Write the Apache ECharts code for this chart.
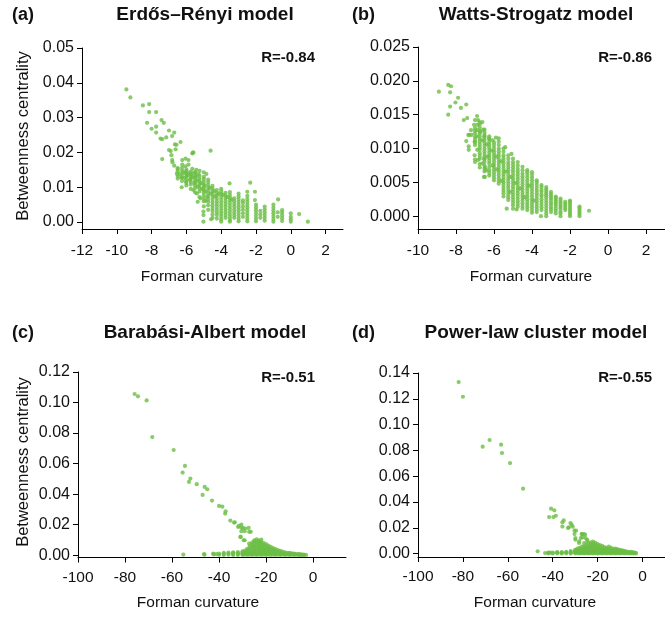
<!DOCTYPE html>
<html>
<head>
<meta charset="utf-8">
<title>Forman curvature vs betweenness centrality</title>
<script src="https://cdn.jsdelivr.net/npm/echarts@6/dist/echarts.min.js"></script>
<style>
    html, body { margin: 0; padding: 0; background: #fff; }
    #chart { width: 665px; height: 618px; }
</style>
</head>
<body>
<div id="chart"></div>
<script>
    // tick labels
    const erXTicks = [-12, -10, -8, -6, -4, -2, 0, 2]
    const erYTicks = [0, 0.01, 0.02, 0.03, 0.04, 0.05]
    const wsXTicks = [-10, -8, -6, -4, -2, 0, 2]
    const wsYTicks = [0, 0.005, 0.01, 0.015, 0.02, 0.025]
    const baXTicks = [-100, -80, -60, -40, -20, 0]
    const baYTicks = [0, 0.02, 0.04, 0.06, 0.08, 0.1, 0.12]
    const plcXTicks = [-100, -80, -60, -40, -20, 0]
    const plcYTicks = [0, 0.02, 0.04, 0.06, 0.08, 0.1, 0.12, 0.14]

    const panelTitles = ['Erdős–Rényi model', 'Watts-Strogatz model', 'Barabási-Albert model', 'Power-law cluster model']
    const panelLetters = ['(a)', '(b)', '(c)', '(d)']
    const correlations = ['R=-0.84', 'R=-0.86', 'R=-0.51', 'R=-0.55']

    // (a) Erdős–Rényi: single points [curvature, betweenness]
    const erPoints = [
        [-9.45, 0.0381], [-9.22, 0.0358], [-8.5, 0.0335], [-8.14, 0.0339], [-8.14, 0.0316], [-7.74, 0.0316],
        [-8.26, 0.0285], [-8.0, 0.0268], [-7.74, 0.0274], [-7.43, 0.0293], [-7.3, 0.0285], [-7.74, 0.0257],
        [-7.49, 0.024], [-7.39, 0.0238], [-7.16, 0.0243], [-7.0, 0.0263], [-6.82, 0.0247], [-6.7, 0.0257],
        [-6.34, 0.023], [-6.66, 0.0223], [-6.57, 0.0222], [-7.0, 0.0207], [-6.62, 0.0209], [-6.9, 0.0204],
        [-6.86, 0.0192], [-7.39, 0.0181], [-5.66, 0.0197], [-5.6, 0.02], [-5.63, 0.0199], [-4.61, 0.0205],
        [-6.82, 0.0178], [-6.8, 0.0172], [-6.24, 0.0178], [-6.05, 0.0182], [-5.88, 0.0178], [-6.7, 0.0162],
        [-6.5, 0.0155], [-6.24, 0.0165], [-6.05, 0.016], [-5.88, 0.0165], [-5.66, 0.0153], [-5.43, 0.015],
        [-5.24, 0.0147], [-6.2, 0.0143], [-5.88, 0.014], [-5.5, 0.0143], [-5.3, 0.0138], [-5.0, 0.0143],
        [-4.85, 0.0138], [-6.27, 0.01], [-6.02, 0.0116], [-5.35, 0.0058], [-5.02, 0.003], [-5.02, 0.002],
        [-5.02, 0.0001], [-4.58, 0.0008], [-4.0, 0.0001], [-3.5, 0.0001], [-3.52, 0.0111], [-2.33, 0.0113],
        [-2.5, 0.0087], [-2.06, 0.0087], [-2.06, 0.0063], [-0.73, 0.0065], [0, 0.0025], [0.48, 0.0023],
        [0.98, 0.0001], [0, 0.0001],
        [-6.4, 0.0138], [-6.1, 0.0127], [-5.95, 0.0133], [-5.8, 0.0121], [-5.65, 0.0129], [-5.55, 0.0112],
        [-5.4, 0.0119], [-5.35, 0.0102], [-5.15, 0.0112], [-5.1, 0.0095], [-4.95, 0.0105], [-4.9, 0.0088],
        [-4.8, 0.0072], [-4.65, 0.0098], [-4.6, 0.0082], [-4.4, 0.0089], [-4.35, 0.0074], [-4.15, 0.0081],
        [-3.9, 0.0078], [-3.65, 0.0072], [-3.4, 0.0065], [-5.6, 0.0092], [-5.4, 0.0082], [-5.2, 0.0068],
        [-4.9, 0.0061], [-6.3, 0.0128], [-6.55, 0.0139], [-6.05, 0.0141], [-5.7, 0.0139], [-5.45, 0.0131]
    ]
    // (a) vertical stripes: [curvature, [betweenness...]]
    const erColumns = [
        [-6.5, [0.0125, 0.0132, 0.0145, 0.0152]],
        [-6.25, [0.0118, 0.0128, 0.0136, 0.0148, 0.0156]],
        [-6.0, [0.0105, 0.0112, 0.0122, 0.0131, 0.0138, 0.0146, 0.0151]],
        [-5.75, [0.0095, 0.0108, 0.0116, 0.0124, 0.013, 0.0137, 0.0145]],
        [-5.5, [0.0085, 0.0098, 0.0106, 0.0113, 0.012, 0.0128, 0.0134, 0.0142]],
        [-5.25, [0.0072, 0.0088, 0.0096, 0.0104, 0.0111, 0.0118, 0.0125, 0.0133]],
        [-5.0, [0.0045, 0.006, 0.0068, 0.0077, 0.0085, 0.0093, 0.01, 0.0108, 0.0116, 0.0124, 0.013]],
        [-4.75, [0.0035, 0.0048, 0.0058, 0.0066, 0.0075, 0.0083, 0.0091, 0.0099, 0.0107, 0.0115, 0.0122]],
        [-4.5, [0.0012, 0.0022, 0.0032, 0.004, 0.0048, 0.0056, 0.0064, 0.0072, 0.008, 0.0088, 0.0096, 0.0104]],
        [-4.25, [0.001, 0.002, 0.0028, 0.0036, 0.0044, 0.0052, 0.006, 0.0068, 0.0076, 0.0084, 0.0092]],
        [-4.0, [0.0008, 0.0016, 0.0024, 0.0032, 0.004, 0.0048, 0.0056, 0.0064, 0.0072, 0.008, 0.0088, 0.0095]],
        [-3.75, [0.0012, 0.002, 0.0028, 0.0036, 0.0044, 0.0052, 0.006, 0.0068, 0.0076, 0.0084]],
        [-3.5, [0.0006, 0.0014, 0.0022, 0.003, 0.0038, 0.0046, 0.0054, 0.0062, 0.007, 0.0078, 0.0086]],
        [-3.25, [0.0012, 0.002, 0.0028, 0.0036, 0.0044, 0.0052, 0.006, 0.0068]],
        [-3.0, [0.0002, 0.001, 0.0018, 0.0026, 0.0034, 0.0042, 0.005, 0.0058, 0.0066, 0.0074, 0.0082]],
        [-2.75, [0.0015, 0.0025, 0.0035, 0.0045, 0.0055, 0.0062]],
        [-2.5, [0.0002, 0.001, 0.0018, 0.0026, 0.0034, 0.0042, 0.005, 0.0058, 0.0066, 0.0075]],
        [-2.0, [0.0002, 0.001, 0.0018, 0.0026, 0.0034, 0.0042, 0.005]],
        [-1.75, [0.0012, 0.0022, 0.0032]],
        [-1.5, [0.0004, 0.0012, 0.002, 0.0028, 0.0036, 0.0044]],
        [-1.0, [0.0001, 0.0009, 0.0017, 0.0025, 0.0033, 0.0041, 0.005]],
        [-0.75, [0.0015, 0.0028]],
        [-0.5, [0.0003, 0.0011, 0.0019, 0.0027, 0.0034]],
        [0, [0.0008, 0.0015]]
    ]

    // (b) Watts-Strogatz
    const wsPoints = [
        [-8.9, 0.0184], [-8.41, 0.0194], [-8.26, 0.0192], [-8.31, 0.0183], [-7.89, 0.0175], [-8.03, 0.0168],
        [-7.74, 0.016], [-7.46, 0.0165], [-8.31, 0.0162], [-8.41, 0.015], [-7.59, 0.0142], [-7.41, 0.0145],
        [-6.89, 0.0148], [-7.0, 0.0142], [-6.84, 0.0142], [-6.61, 0.0139], [-7.05, 0.0135], [-6.87, 0.0135],
        [-7.21, 0.0127], [-7.3, 0.012], [-7.18, 0.012], [-6.89, 0.0127], [-6.72, 0.0125], [-6.56, 0.0128],
        [-6.51, 0.0118], [-6.26, 0.0115], [-5.9, 0.0116], [-6.07, 0.0112], [-7.46, 0.0111], [-7.33, 0.0103],
        [-7.33, 0.0098], [-7.02, 0.009], [-6.84, 0.0083], [-6.52, 0.0085], [-6.48, 0.0072], [-6.4, 0.0068],
        [-6.48, 0.0058], [-6.07, 0.0075], [-5.41, 0.0102], [-5.08, 0.0092], [-7.35, 0.012], [-7.02, 0.011],
        [-6.53, 0.0058], [-6.61, 0.0078], [-5.33, 0.0011], [-4.81, 0.001], [-3.53, 0.0],
        [-6.9, 0.0118], [-6.62, 0.0112], [-6.38, 0.0106], [-6.12, 0.0097], [-5.88, 0.0088], [-5.62, 0.0081],
        [-5.38, 0.0066], [-5.12, 0.0058], [-4.88, 0.0049], [-4.62, 0.0041], [-6.88, 0.0098], [-6.35, 0.0088],
        [-5.85, 0.0069], [-5.6, 0.0052], [-5.15, 0.0036], [-4.4, 0.0028], [-3.9, 0.0023], [-4.15, 0.0045]
    ]
    const wsColumns = [
        [-7.0, [0.008, 0.0084, 0.0105, 0.0109, 0.0113, 0.0117, 0.0122, 0.0126, 0.013]],
        [-6.75, [0.0072, 0.0077, 0.0085, 0.0089, 0.0093, 0.0098, 0.0102, 0.0106, 0.011, 0.0114, 0.0118, 0.0122, 0.0126, 0.0131, 0.0136, 0.0139]],
        [-6.5, [0.0066, 0.007, 0.0075, 0.008, 0.0084, 0.0088, 0.0092, 0.0096, 0.01, 0.0104, 0.0108, 0.0112, 0.0116, 0.012, 0.0124, 0.0128]],
        [-6.25, [0.006, 0.0064, 0.0068, 0.0073, 0.0078, 0.0082, 0.0086, 0.009, 0.0094, 0.0098, 0.0102, 0.0106, 0.011, 0.0114, 0.0118]],
        [-6.0, [0.0053, 0.0057, 0.0061, 0.0065, 0.0069, 0.0073, 0.0077, 0.0081, 0.0085, 0.0089, 0.0093, 0.0097, 0.0101, 0.0105, 0.0109]],
        [-5.75, [0.0048, 0.0052, 0.0056, 0.006, 0.0064, 0.0068, 0.0072, 0.0076, 0.008, 0.0084, 0.0088, 0.0092, 0.0096, 0.01, 0.0105, 0.011, 0.0115]],
        [-5.5, [0.0029, 0.0034, 0.0038, 0.0042, 0.0046, 0.005, 0.0054, 0.0058, 0.0062, 0.0066, 0.007, 0.0074, 0.0078, 0.0082, 0.0086, 0.009, 0.0095, 0.01]],
        [-5.25, [0.0024, 0.0028, 0.0032, 0.0036, 0.004, 0.0044, 0.0048, 0.0052, 0.0056, 0.006, 0.0064, 0.0068, 0.0072, 0.0076, 0.008, 0.0085, 0.009]],
        [-5.0, [0.0011, 0.0016, 0.002, 0.0024, 0.0028, 0.0032, 0.0036, 0.004, 0.0044, 0.0048, 0.0052, 0.0056, 0.006, 0.0064, 0.0068, 0.0072, 0.0076, 0.008, 0.0085]],
        [-4.75, [0.0014, 0.0018, 0.0022, 0.0026, 0.003, 0.0034, 0.0038, 0.0042, 0.0046, 0.005, 0.0054, 0.0058, 0.0062, 0.0066, 0.007, 0.0075, 0.008]],
        [-4.5, [0.0011, 0.0015, 0.0019, 0.0023, 0.0027, 0.0031, 0.0035, 0.0039, 0.0043, 0.0047, 0.0051, 0.0055, 0.0059, 0.0063, 0.0068, 0.0073]],
        [-4.25, [0.0009, 0.0013, 0.0017, 0.0021, 0.0025, 0.0029, 0.0033, 0.0037, 0.0041, 0.0045, 0.0049, 0.0053, 0.0057, 0.0061, 0.0065, 0.0068]],
        [-4.0, [0.0005, 0.0009, 0.0013, 0.0017, 0.0021, 0.0025, 0.0029, 0.0033, 0.0037, 0.0041, 0.0045, 0.0049, 0.0053, 0.0057, 0.0061, 0.0065]],
        [-3.75, [0.0006, 0.001, 0.0014, 0.0018, 0.0022, 0.0026, 0.003, 0.0034, 0.0038, 0.0042, 0.0046, 0.005, 0.0053]],
        [-3.5, [0.0009, 0.0013, 0.0017, 0.0021, 0.0025, 0.0029, 0.0032, 0.0036, 0.0039, 0.0043, 0.0046]],
        [-3.25, [0.0, 0.0004, 0.0008, 0.0012, 0.0016, 0.002, 0.0024, 0.0028, 0.0031, 0.0034, 0.0037, 0.004, 0.0043]],
        [-3.0, [0.0006, 0.001, 0.0013, 0.0017, 0.002, 0.0024, 0.0027, 0.003, 0.0033, 0.0036]],
        [-2.75, [0.0004, 0.0008, 0.0011, 0.0015, 0.0018, 0.0021, 0.0024, 0.0027, 0.0029]],
        [-2.5, [0.0, 0.0004, 0.0007, 0.0011, 0.0014, 0.0017, 0.002, 0.0023, 0.0026]],
        [-2.25, [0.0009, 0.0012, 0.0015, 0.0018, 0.0021]],
        [-2.0, [0.0, 0.0003, 0.0006, 0.0009, 0.0012, 0.0015, 0.0018, 0.0021, 0.0023]],
        [-1.5, [0.0, 0.0003, 0.0006, 0.0009, 0.0012, 0.0014]],
        [-1.0, [0.0008]]
    ]

    // (c) Barabási-Albert
    const baPoints = [
        [-75.9, 0.1056], [-74.5, 0.1041], [-70.8, 0.1014], [-68.4, 0.0774], [-59.3, 0.0689], [-54.5, 0.0585],
        [-55.5, 0.0541], [-52.2, 0.0502], [-52.8, 0.048], [-49.5, 0.0465], [-46.1, 0.0447], [-45.0, 0.0432],
        [-47.0, 0.0395], [-43.0, 0.0358], [-40.0, 0.0323], [-38.6, 0.0318], [-37.2, 0.0288], [-37.4, 0.0273],
        [-35.2, 0.0227], [-33.3, 0.0216], [-30.5, 0.0201], [-31.9, 0.0185], [-29.8, 0.0179], [-28.8, 0.0175],
        [-27.4, 0.0179], [-26.5, 0.0153], [-30.5, 0.0157], [-30.9, 0.012], [-29.5, 0.0098], [-55.2, 0.0004],
        [-46.2, 0.0004], [-42.3, 0.0005], [-41.1, 0.0007], [-33.6, 0.0214], [-31.5, 0.0192], [-30.5, 0.0179],
        [-29.1, 0.0157], [-27.2, 0.0153], [-30.8, 0.012], [-29.1, 0.0098], [-27.2, 0.0076], [-25.5, 0.0055],
        [-46.4, 0.0007], [-42.5, 0.0011]
    ]
    const baColumns = [
        [-40, [0.0003, 0.0011]], [-38, [0.0002, 0.0009, 0.0015]], [-36, [0.0003, 0.001, 0.0017]],
        [-34, [0.0002, 0.0008, 0.0014, 0.0019]], [-32, [0.0002, 0.0008, 0.0014, 0.002]],
        [-30, [0.0002, 0.0007, 0.0013, 0.0019, 0.0026]], [-29, [0.0004, 0.0012, 0.002, 0.003]],
        [-28, [0.0002, 0.0008, 0.0015, 0.0023, 0.0032, 0.0042]],
        [-27, [0.0004, 0.0011, 0.002, 0.003, 0.0045, 0.006]],
        [-26, [0.0002, 0.0008, 0.0015, 0.0024, 0.0035, 0.005, 0.0068, 0.0082]],
        [-25, [0.0004, 0.0011, 0.002, 0.003, 0.0042, 0.0058, 0.0075, 0.009, 0.0098]],
        [-24, [0.0002, 0.0008, 0.0016, 0.0026, 0.0038, 0.005, 0.0064, 0.0078, 0.009, 0.0104]],
        [-23, [0.0004, 0.0012, 0.0022, 0.0034, 0.0046, 0.006, 0.0072, 0.0085, 0.0097]],
        [-22, [0.0002, 0.0008, 0.0016, 0.0026, 0.0038, 0.005, 0.0062, 0.0075, 0.0088, 0.0102]],
        [-21, [0.0004, 0.0012, 0.0022, 0.0033, 0.0044, 0.0056, 0.0068, 0.008]],
        [-20, [0.0002, 0.0008, 0.0016, 0.0026, 0.0036, 0.0047, 0.0058, 0.0072]],
        [-19, [0.0004, 0.0012, 0.0021, 0.003, 0.004, 0.0052, 0.0063]],
        [-18, [0.0002, 0.0008, 0.0015, 0.0023, 0.0032, 0.0042, 0.0055]],
        [-17, [0.0004, 0.0011, 0.0019, 0.0027, 0.0036, 0.0047]],
        [-16, [0.0002, 0.0008, 0.0014, 0.0021, 0.003, 0.004]],
        [-15, [0.0004, 0.001, 0.0017, 0.0025, 0.0034]], [-14, [0.0002, 0.0007, 0.0013, 0.002, 0.0028]],
        [-13, [0.0004, 0.001, 0.0016, 0.0023]], [-12, [0.0002, 0.0007, 0.0012, 0.0019]],
        [-11, [0.0004, 0.0009, 0.0015]], [-10, [0.0002, 0.0006, 0.0011, 0.0016]],
        [-9, [0.0003, 0.0008, 0.0013]], [-8, [0.0002, 0.0006, 0.001]], [-7, [0.0003, 0.0007]],
        [-6, [0.0001, 0.0005, 0.0008]], [-5, [0.0002, 0.0006]], [-4, [0.0001, 0.0004]], [-3, [0.0002]]
    ]

    // (d) Power-law cluster
    const plcPoints = [
        [-81.9, 0.133], [-80.0, 0.1216], [-71.2, 0.0829], [-68.1, 0.0881], [-63.0, 0.0845], [-62.6, 0.078],
        [-59.0, 0.0702], [-53.2, 0.0504], [-40.75, 0.0349], [-39.3, 0.0336], [-41.6, 0.0284], [-39.7, 0.0284],
        [-38.6, 0.0294], [-35.1, 0.0258], [-35.7, 0.0243], [-35.7, 0.021], [-32.8, 0.0204], [-31.1, 0.0209],
        [-32.1, 0.0238], [-31.6, 0.0225], [-33.2, 0.0199], [-30.3, 0.0178], [-29.6, 0.0178], [-30.3, 0.0152],
        [-29.9, 0.0121], [-27.0, 0.0152], [-25.6, 0.0147], [-26.7, 0.0127], [-24.6, 0.0108], [-26.0, 0.0083],
        [-28.2, 0.0096], [-46.7, 0.0018], [-43.4, 0.0005], [-41.2, 0.0008], [-27.1, 0.0152], [-26.1, 0.0152],
        [-27.5, 0.0121], [-25.4, 0.0121], [-24.6, 0.0096], [-29.9, 0.0108], [-28.3, 0.0083]
    ]
    const plcColumns = [
        [-42, [0.0003, 0.0009]], [-40, [0.0002, 0.0008]], [-38, [0.0003, 0.0009, 0.0013]],
        [-36, [0.0002, 0.0007, 0.0012]], [-34, [0.0003, 0.0009, 0.0015]], [-32, [0.0002, 0.0008, 0.0014, 0.002]],
        [-30, [0.0003, 0.0009, 0.0016, 0.0024, 0.003]], [-29, [0.0005, 0.0012, 0.002, 0.003, 0.004]],
        [-28, [0.0002, 0.0008, 0.0015, 0.0023, 0.0033, 0.0045]],
        [-27, [0.0004, 0.0011, 0.0019, 0.0028, 0.004, 0.0055]],
        [-26, [0.0002, 0.0008, 0.0015, 0.0023, 0.0033, 0.0045, 0.006]],
        [-25, [0.0004, 0.0011, 0.0019, 0.0028, 0.004, 0.0053, 0.0068]],
        [-24, [0.0002, 0.0008, 0.0015, 0.0024, 0.0035, 0.0048, 0.0062, 0.0078]],
        [-23, [0.0004, 0.0011, 0.002, 0.003, 0.0042, 0.0056, 0.0072, 0.0088]],
        [-22, [0.0002, 0.0008, 0.0015, 0.0024, 0.0035, 0.0048, 0.0062, 0.0078, 0.0094]],
        [-21, [0.0004, 0.0011, 0.002, 0.003, 0.0042, 0.0055, 0.007, 0.0085]],
        [-20, [0.0002, 0.0008, 0.0015, 0.0024, 0.0035, 0.0047, 0.006, 0.0075]],
        [-19, [0.0004, 0.0011, 0.0019, 0.0028, 0.0039, 0.0051, 0.0066]],
        [-18, [0.0002, 0.0008, 0.0015, 0.0023, 0.0033, 0.0045, 0.006]],
        [-17, [0.0004, 0.001, 0.0018, 0.0027, 0.0038, 0.0052]],
        [-16, [0.0002, 0.0008, 0.0015, 0.0023, 0.0033, 0.0046]],
        [-15, [0.0004, 0.001, 0.0018, 0.0027, 0.0038, 0.0055]],
        [-14, [0.0002, 0.0008, 0.0015, 0.0023, 0.0034, 0.0046]],
        [-13, [0.0004, 0.001, 0.0017, 0.0026, 0.0038]], [-12, [0.0002, 0.0008, 0.0014, 0.0022, 0.0032, 0.004]],
        [-11, [0.0004, 0.001, 0.0017, 0.0026, 0.0034]], [-10, [0.0002, 0.0008, 0.0014, 0.0021, 0.003]],
        [-9, [0.0004, 0.001, 0.0017, 0.0025]], [-8, [0.0002, 0.0008, 0.0014, 0.0022]],
        [-7, [0.0004, 0.001, 0.0016]], [-6, [0.0002, 0.0008, 0.0014]], [-5, [0.0003, 0.0009, 0.0014]],
        [-4, [0.0002, 0.0007, 0.0011]], [-3, [0.0002, 0.0006]]
    ]

    function withColumns(points, columns) {
        const out = points.slice()
        columns.forEach(([x, ys]) => ys.forEach(y => out.push([x, y])))
        return out
    }

    const FONT = '"Liberation Sans", Arial, sans-serif'
    const TEXT = '#111'
    const DOT = '#6cbe45'

    // layout per panel
    const panels = [
        {grid: {left: 82, top: 48, width: 261, height: 181}, xMin: -12, xMax: 3, yMin: -0.002, yMax: 0.05,
            xTicks: erXTicks, yTicks: erYTicks, dec: 2, xMargin: 14, data: withColumns(erPoints, erColumns)},
        {grid: {left: 418, top: 47, width: 264, height: 182}, xMin: -10, xMax: 3, yMin: -0.0019, yMax: 0.025,
            xTicks: wsXTicks, yTicks: wsYTicks, dec: 3, xMargin: 14, data: withColumns(wsPoints, wsColumns)},
        {grid: {left: 78, top: 372, width: 268, height: 185.5}, xMin: -100, xMax: 14, yMin: -0.0015, yMax: 0.12,
            xTicks: baXTicks, yTicks: baYTicks, dec: 2, xMargin: 12, data: withColumns(baPoints, baColumns)},
        {grid: {left: 418, top: 373, width: 254, height: 184}, xMin: -100, xMax: 10, yMin: -0.00256, yMax: 0.14,
            xTicks: plcXTicks, yTicks: plcYTicks, dec: 2, xMargin: 12, data: withColumns(plcPoints, plcColumns)}
    ]

    const axisLine = {show: true, onZero: false, lineStyle: {color: '#000', width: 1}}
    const axisTick = {show: true, length: 5, lineStyle: {color: '#000', width: 1}}

    const option = {
        animation: false,
        backgroundColor: '#fff',
        grid: panels.map(p => p.grid),
        xAxis: panels.map((p, i) => ({
            type: 'value', gridIndex: i, min: p.xMin, max: p.xMax,
            axisLine: axisLine,
            axisTick: Object.assign({customValues: p.xTicks}, axisTick),
            axisLabel: {customValues: p.xTicks, fontSize: 15.5, fontFamily: FONT, color: TEXT, margin: p.xMargin},
            splitLine: {show: false}
        })),
        yAxis: panels.map((p, i) => ({
            type: 'value', gridIndex: i, min: p.yMin, max: p.yMax,
            axisLine: axisLine,
            axisTick: Object.assign({customValues: p.yTicks}, axisTick),
            axisLabel: {
                customValues: p.yTicks, fontSize: 16, fontFamily: FONT, color: TEXT, margin: 8,
                formatter: v => v.toFixed(p.dec)
            },
            splitLine: {show: false}
        })),
        series: panels.map((p, i) => ({
            type: 'scatter', xAxisIndex: i, yAxisIndex: i,
            symbolSize: 4.2, itemStyle: {color: DOT},
            emphasis: {disabled: true},
            data: p.data
        })),
        graphic: []
    }

    const letterPos = [[12, 15], [352, 15], [12, 333], [352, 333]]
    const titlePos = [[205, 15], [536, 15], [205, 333], [536, 333]]
    const rPos = [[315, 58], [652, 58], [315, 378], [652, 378]]
    const xNamePos = [[202, 277], [531, 277], [198, 603], [535, 603]]

    function label(x, y, text, font, align, rotation) {
        return {
            type: 'text', x: x, y: y, rotation: rotation || 0, silent: true,
            style: {text: text, font: font, fill: TEXT, textAlign: align, textVerticalAlign: 'middle'}
        }
    }

    for (let i = 0; i < 4; i++) {
        option.graphic.push(label(letterPos[i][0], letterPos[i][1], panelLetters[i], 'bold 18px ' + FONT, 'left'))
        option.graphic.push(label(titlePos[i][0], titlePos[i][1], panelTitles[i], 'bold 19px ' + FONT, 'center'))
        option.graphic.push(label(rPos[i][0], rPos[i][1], correlations[i], 'bold 15px ' + FONT, 'right'))
        option.graphic.push(label(xNamePos[i][0], xNamePos[i][1], 'Forman curvature', '15.5px ' + FONT, 'center'))
    }
    // y axis name only on the left column
    option.graphic.push(label(23, 136, 'Betweenness centrality', '16.5px ' + FONT, 'center', Math.PI / 2))
    option.graphic.push(label(23, 462, 'Betweenness centrality', '16.5px ' + FONT, 'center', Math.PI / 2))

    const chart = echarts.init(document.getElementById('chart'))
    chart.setOption(option)
    window.addEventListener('resize', () => chart.resize())
</script>
</body>
</html>
